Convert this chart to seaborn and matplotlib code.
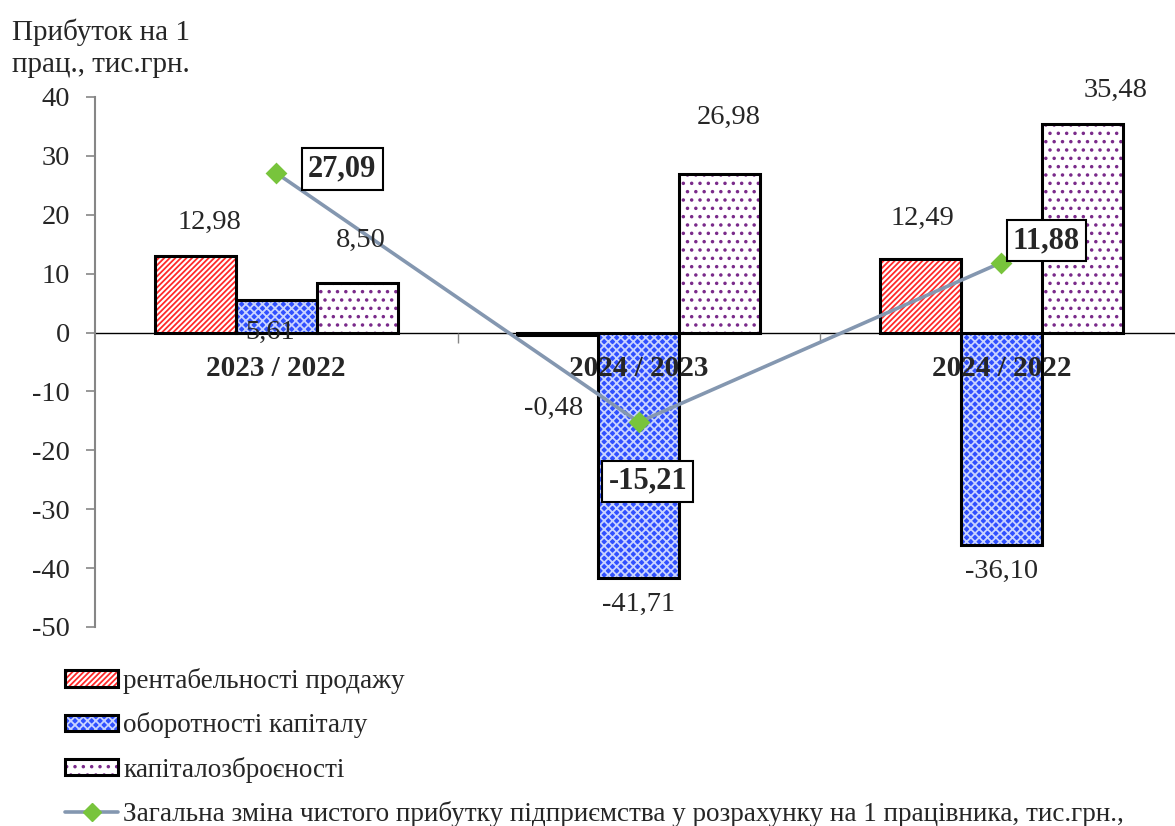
import numpy as np
import pandas as pd
import matplotlib
matplotlib.use("Agg")
import matplotlib.pyplot as plt
import seaborn as sns
from matplotlib.patches import Rectangle, Patch
from matplotlib.lines import Line2D

# --- data -------------------------------------------------------------
periods = ["2023 / 2022", "2024 / 2023", "2024 / 2022"]
factors = ["рентабельності продажу", "оборотності капіталу", "капіталозброєності"]
sales_margin = [12.98, -0.48, 12.49]
capital_turnover = [5.61, -41.71, -36.10]
capital_intensity = [8.50, 26.98, 35.48]
total_change = [27.09, -15.21, 11.88]
total_label = ("Загальна зміна чистого прибутку підприємства у розрахунку "
               "на 1 працівника, тис.грн.,")
y_title = "Прибуток на 1\nпрац., тис.грн."
y_ticks = [40, 30, 20, 10, 0, -10, -20, -30, -40, -50]

# --- styles -----------------------------------------------------------
bar_styles = [
    dict(face="white", hatch="//////", hatch_color="#FF2A2A"),
    dict(face="#3050FF", hatch="xxxx", hatch_color="#C9D4FF"),
    dict(face="white", hatch="..", hatch_color="#7A2A8A"),
]
line_color = "#8497B0"
marker_color = "#78C43C"
# label offsets in pixels (dx, dy), per factor and period
bar_label_offsets = [
    [(14, 34), (-4, -73), (2, 41)],
    [(-6, -33), (0, -26), (0, -26)],
    [(3, 42), (9, 56), (33, 33)],
]
total_label_offsets = [(66, 4), (9, -59), (45, 22)]

sns.set_style("white")
plt.rcParams["font.family"] = ["Liberation Serif", "DejaVu Serif"]
plt.rcParams["axes.unicode_minus"] = False
plt.rcParams["hatch.linewidth"] = 1.3

W, H = 1175, 826
fig = plt.figure(figsize=(W / 100, H / 100), dpi=100)
ax = fig.add_axes([95 / W, 1 - 627 / H, 1087.5 / W, 530 / H])

df = pd.DataFrame({
    "period": periods * 3,
    "factor": np.repeat(factors, len(periods)),
    "value": sales_margin + capital_turnover + capital_intensity,
})

sns.barplot(data=df, x="period", y="value", hue="factor", order=periods,
            hue_order=factors, width=0.671, gap=0, errorbar=None,
            legend=False, ax=ax)

fmt = lambda v: f"{v:.2f}".replace(".", ",")

for i, (container, st) in enumerate(zip(ax.containers, bar_styles)):
    for j, p in enumerate(container.patches):
        p.set_facecolor(st["face"])
        p.set_edgecolor(st["hatch_color"])
        p.set_hatch(st["hatch"])
        p.set_linewidth(0)
        ax.add_patch(Rectangle(p.get_xy(), p.get_width(), p.get_height(),
                               fill=False, ec="black", lw=2.2,
                               zorder=p.get_zorder() + 0.1))
        val = p.get_height()
        x = p.get_x() + p.get_width() / 2
        dx, dy = bar_label_offsets[i][j]
        ax.annotate(fmt(val), xy=(x, val), xytext=(dx, dy),
                    textcoords="offset pixels", ha="center", va="center",
                    fontsize=20.5, zorder=6)

n_before = len(ax.lines)
sns.pointplot(x=periods, y=total_change, order=periods, color=line_color,
              markers="D", linestyles="-", linewidth=2.6, markersize=9,
              errorbar=None, ax=ax)
trend = [ln for ln in ax.lines[n_before:] if ln.get_marker() == "D"][0]
trend.set_markerfacecolor(marker_color)
trend.set_markeredgecolor(marker_color)
trend.set_zorder(5)

for (x, y), (dx, dy) in zip(trend.get_xydata(), total_label_offsets):
    ax.annotate(fmt(y), xy=(x, y), xytext=(dx, dy),
                textcoords="offset pixels", ha="center", va="center",
                fontsize=22, fontweight="bold", zorder=7,
                bbox=dict(boxstyle="square,pad=0.2", fc="white",
                          ec="black", lw=1.5))

# --- axes -------------------------------------------------------------
ax.set_xlim(-0.5, 2.5)
ax.set_ylim(-50, 40)
ax.set_yticks(y_ticks)
ax.set_yticklabels([str(t) for t in y_ticks])
ax.set_xlabel("")
ax.set_ylabel("")
ax.spines["top"].set_visible(False)
ax.spines["right"].set_visible(False)
ax.spines["left"].set_color("#868686")
ax.spines["left"].set_linewidth(1.5)
ax.spines["bottom"].set_position(("data", 0))
ax.spines["bottom"].set_color("black")
ax.spines["bottom"].set_linewidth(1.0)
ax.spines["bottom"].set_zorder(0.5)
ax.tick_params(axis="y", left=True, length=6.5, width=1.2, color="#868686",
               pad=11.5, labelsize=20.5)
ax.set_xticks(range(len(periods)))
ax.set_xticklabels(periods, fontweight="bold")
ax.tick_params(axis="x", which="major", length=0, pad=16, labelsize=21)
ax.set_xticks([0.5, 1.5], minor=True)
ax.tick_params(axis="x", which="minor", bottom=True, length=7, width=1.0,
               color="#868686", direction="out")
ax.xaxis.set_zorder(4)
ax.grid(False)

fig.text(12 / W, 1 - 18 / H, y_title, ha="left", va="top", fontsize=21,
         linespacing=1.3)

handles = [
    (Patch(fc=st["face"], ec=st["hatch_color"], hatch=st["hatch"], lw=0),
     Patch(fill=False, ec="black", lw=2.2))
    for st in bar_styles
]
handles.append(Line2D([], [], color=line_color, lw=2.6, marker="D",
                      ms=9, mfc=marker_color, mec=marker_color))
fig.legend(handles, factors + [total_label], loc="upper left",
           bbox_to_anchor=(65 / W, 1 - 668 / H), frameon=False,
           fontsize=19.5, handlelength=1.96, handleheight=0.55,
           labelspacing=0.68, handletextpad=0.19, borderaxespad=0,
           borderpad=0)

fig.savefig("out.png", dpi=100)
